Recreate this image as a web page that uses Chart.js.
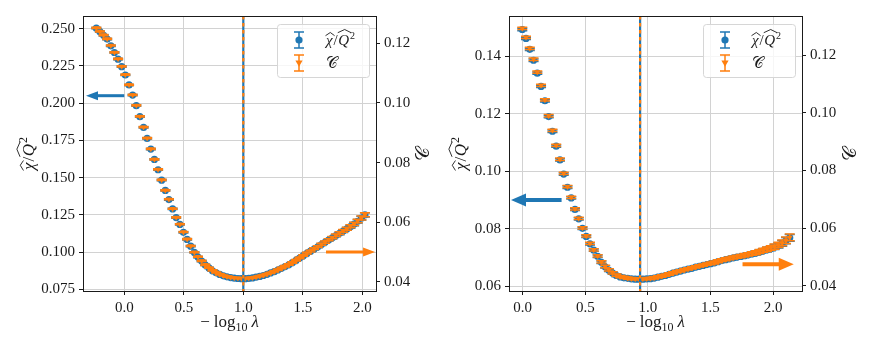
<!DOCTYPE html>
<html><head><meta charset="utf-8">
<script src="https://cdn.jsdelivr.net/npm/chart.js@4/dist/chart.umd.min.js"></script>
<style>
html,body{margin:0;padding:0;background:#fff;}
#wrap{position:relative;width:872px;height:349px;overflow:hidden;}
canvas{position:absolute;top:0;}
</style></head><body>
<div id="wrap"><canvas id="cL" width="436" height="349" style="left:0"></canvas><canvas id="cR" width="436" height="349" style="left:436px"></canvas></div>
<script>
// ---------- Left panel data ----------
const xL = [-0.235,-0.205,-0.174,-0.144,-0.113,-0.083,-0.052,-0.022,0.009,0.040,
 0.070,0.101,0.131,0.162,0.192,0.223,0.253,0.284,0.314,0.345,
 0.375,0.406,0.436,0.467,0.497,0.528,0.558,0.589,0.619,0.650,
 0.680,0.711,0.741,0.772,0.802,0.833,0.863,0.894,0.924,0.955,
 0.985,1.016,1.046,1.077,1.107,1.138,1.168,1.199,1.229,1.260,
 1.290,1.321,1.351,1.382,1.412,1.443,1.473,1.504,1.534,1.565,
 1.595,1.626,1.656,1.687,1.717,1.748,1.778,1.809,1.839,1.870,
 1.900,1.931,1.961,1.992,2.022];
const chiL = [0.2503,0.2480,0.2455,0.2430,0.2385,0.2340,0.2295,0.2245,0.2189,0.2122,
 0.2054,0.1983,0.1909,0.1837,0.1763,0.1692,0.1622,0.1553,0.1483,0.1414,
 0.1353,0.1290,0.1232,0.1186,0.1133,0.1085,0.1040,0.0998,0.0967,0.0940,
 0.0914,0.0894,0.0875,0.0861,0.0850,0.0841,0.0834,0.0829,0.0825,0.0823,
 0.0822,0.0822,0.0824,0.0827,0.0832,0.0837,0.0843,0.0851,0.0860,0.0869,
 0.0880,0.0891,0.0903,0.0915,0.0929,0.0944,0.0960,0.0976,0.0991,0.1006,
 0.1021,0.1036,0.1051,0.1066,0.1081,0.1096,0.1111,0.1126,0.1141,0.1156,
 0.1171,0.1188,0.1207,0.1228,0.1250];
const chiErrL = [0.0004,0.0004,0.0004,0.0004,0.0004,0.0004,0.0004,0.0004,0.0004,0.0004,
 0.0004,0.0004,0.0004,0.0004,0.0004,0.0004,0.0004,0.0004,0.0004,0.0004,
 0.0004,0.0004,0.0004,0.0004,0.0004,0.0004,0.0004,0.0004,0.0004,0.0004,
 0.0004,0.0004,0.0004,0.0004,0.0004,0.0004,0.0004,0.0004,0.0004,0.0004,
 0.0004,0.0004,0.0004,0.0004,0.0004,0.0004,0.0004,0.0004,0.0004,0.0004,
 0.0005,0.0005,0.0005,0.0005,0.0005,0.0005,0.0005,0.0005,0.0006,0.0006,
 0.0006,0.0006,0.0007,0.0007,0.0007,0.0008,0.0008,0.0009,0.0009,0.0010,
 0.0010,0.0011,0.0012,0.0013,0.0014];
const cL = [0.1252,0.1240,0.1228,0.1215,0.1193,0.1170,0.1148,0.1123,0.1095,0.1061,
 0.1027,0.0992,0.0955,0.0919,0.0882,0.0846,0.0811,0.0777,0.0742,0.0707,
 0.0677,0.0645,0.0616,0.0593,0.0567,0.0543,0.0520,0.0499,0.0484,0.0470,
 0.0457,0.0447,0.0438,0.0431,0.0425,0.0421,0.0417,0.0415,0.0413,0.0412,
 0.0411,0.0411,0.0412,0.0414,0.0416,0.0419,0.0422,0.0426,0.0430,0.0435,
 0.0440,0.0446,0.0452,0.0458,0.0465,0.0472,0.0480,0.0488,0.0496,0.0503,
 0.0511,0.0518,0.0526,0.0533,0.0541,0.0548,0.0556,0.0563,0.0571,0.0578,
 0.0586,0.0594,0.0604,0.0614,0.0625];
const cErrL = [0.0002,0.0002,0.0002,0.0002,0.0002,0.0002,0.0002,0.0002,0.0002,0.0002,
 0.0002,0.0002,0.0002,0.0002,0.0002,0.0002,0.0002,0.0002,0.0002,0.0002,
 0.0002,0.0002,0.0002,0.0002,0.0002,0.0002,0.0002,0.0002,0.0002,0.0002,
 0.0002,0.0002,0.0002,0.0002,0.0002,0.0002,0.0002,0.0002,0.0002,0.0002,
 0.0002,0.0002,0.0002,0.0002,0.0002,0.0002,0.0002,0.0002,0.0002,0.0002,
 0.00025,0.00025,0.00025,0.00025,0.00025,0.00025,0.00025,0.00025,0.0003,0.0003,
 0.0003,0.0003,0.00035,0.00035,0.00035,0.0004,0.0004,0.00045,0.00045,0.0005,
 0.0005,0.00055,0.0006,0.00065,0.0007];
const xTicksL = [0.0, 0.5, 1.0, 1.5, 2.0];
const yTicksL = [0.075, 0.100, 0.125, 0.150, 0.175, 0.200, 0.225, 0.250];
const y1TicksL = [0.04, 0.06, 0.08, 0.10, 0.12];
const xRangeL = [-0.347, 2.115];
const yRangeL = [0.0739, 0.2585];
const y1RangeL = [0.0369, 0.1292];
const vlineL = 1.0;
const arrowBlueL = [0.00, -0.322, 0.205];     // x from, x to (tip), y on left axis
const arrowOrangeL = [1.695, 2.107, 0.050];   // x from, x to (tip), y on right axis

// ---------- Right panel data ----------
const xR = [-0.003,0.027,0.057,0.087,0.117,0.147,0.178,0.208,0.238,0.268,
 0.298,0.328,0.358,0.388,0.418,0.448,0.478,0.508,0.538,0.568,
 0.599,0.629,0.659,0.689,0.719,0.749,0.779,0.809,0.839,0.869,
 0.899,0.929,0.960,0.990,1.020,1.050,1.080,1.110,1.140,1.170,
 1.200,1.230,1.260,1.290,1.321,1.351,1.381,1.411,1.441,1.471,
 1.501,1.531,1.561,1.591,1.621,1.651,1.682,1.712,1.742,1.772,
 1.802,1.832,1.862,1.892,1.922,1.952,1.982,2.012,2.043,2.073,
 2.103,2.133];
const chiR = [0.1493,0.1462,0.1424,0.1386,0.1341,0.1295,0.1245,0.1190,0.1139,0.1087,
 0.1039,0.0990,0.0944,0.0907,0.0867,0.0834,0.0801,0.0773,0.0747,0.0725,
 0.0704,0.0683,0.0667,0.0655,0.0645,0.0637,0.0632,0.0629,0.0627,0.0625,
 0.0624,0.0624,0.0624,0.0625,0.0626,0.0628,0.0631,0.0634,0.0637,0.0641,
 0.0645,0.0649,0.0652,0.0656,0.0659,0.0662,0.0666,0.0669,0.0672,0.0675,
 0.0678,0.0681,0.0685,0.0689,0.0692,0.0695,0.0698,0.0701,0.0703,0.0706,
 0.0709,0.0712,0.0715,0.0719,0.0723,0.0727,0.0731,0.0736,0.0742,0.0749,
 0.0758,0.0768];
const chiErrR = [0.0004,0.0004,0.0004,0.0004,0.0004,0.0004,0.0004,0.0004,0.0004,0.0004,
 0.0004,0.0004,0.0004,0.0004,0.0004,0.0004,0.0004,0.0004,0.0004,0.0004,
 0.0004,0.0004,0.0004,0.0004,0.0004,0.0004,0.0004,0.0004,0.0004,0.0004,
 0.0004,0.0004,0.0004,0.0004,0.0004,0.0004,0.0004,0.0004,0.0004,0.0004,
 0.0004,0.0004,0.0004,0.0004,0.0004,0.0004,0.0004,0.0004,0.0004,0.0004,
 0.0005,0.0005,0.0005,0.0005,0.0005,0.0005,0.0005,0.0005,0.0006,0.0006,
 0.0006,0.0006,0.0007,0.0007,0.0007,0.0008,0.0008,0.0009,0.0009,0.0010,
 0.0011,0.0012];
const cR = [0.1293,0.1262,0.1224,0.1186,0.1141,0.1095,0.1045,0.0990,0.0939,0.0887,
 0.0839,0.0790,0.0744,0.0707,0.0667,0.0634,0.0601,0.0573,0.0547,0.0525,
 0.0504,0.0483,0.0467,0.0455,0.0445,0.0437,0.0432,0.0429,0.0427,0.0425,
 0.0424,0.0424,0.0424,0.0425,0.0426,0.0428,0.0431,0.0434,0.0437,0.0441,
 0.0445,0.0449,0.0452,0.0456,0.0459,0.0462,0.0466,0.0469,0.0472,0.0475,
 0.0478,0.0481,0.0485,0.0489,0.0492,0.0495,0.0498,0.0501,0.0503,0.0506,
 0.0509,0.0512,0.0515,0.0519,0.0523,0.0527,0.0531,0.0536,0.0542,0.0549,
 0.0558,0.0568];
const cErrR = [0.0004,0.0004,0.0004,0.0004,0.0004,0.0004,0.0004,0.0004,0.0004,0.0004,
 0.0004,0.0004,0.0004,0.0004,0.0004,0.0004,0.0004,0.0004,0.0004,0.0004,
 0.0004,0.0004,0.0004,0.0004,0.0004,0.0004,0.0004,0.0004,0.0004,0.0004,
 0.0004,0.0004,0.0004,0.0004,0.0004,0.0004,0.0004,0.0004,0.0004,0.0004,
 0.0004,0.0004,0.0004,0.0004,0.0004,0.0004,0.0004,0.0004,0.0004,0.0004,
 0.0005,0.0005,0.0005,0.0005,0.0005,0.0005,0.0005,0.0005,0.0006,0.0006,
 0.0006,0.0006,0.0007,0.0007,0.0007,0.0008,0.0008,0.0009,0.0009,0.0010,
 0.0011,0.0012];
const xTicksR = [0.0, 0.5, 1.0, 1.5, 2.0];
const yTicksR = [0.06, 0.08, 0.10, 0.12, 0.14];
const y1TicksR = [0.04, 0.06, 0.08, 0.10, 0.12];
const xRangeR = [-0.109, 2.231];
const yRangeR = [0.0583, 0.1540];
const y1RangeR = [0.0382, 0.1336];
const vlineR = 0.938;
const arrowBlueR = [0.311, -0.093, 0.090];
const arrowOrangeR = [1.756, 2.165, 0.0475];

// ---------- styling ----------
const BLUE = '#1f77b4', ORANGE = '#ff7f0e', INK = '#1a1a1a';
const SERIF = '"Liberation Serif", "DejaVu Serif", serif';

function richWidth(ctx, segs){
  let w = 0;
  for (const s of segs){ ctx.font = s.f; w += ctx.measureText(s.t).width + (s.sp||0); }
  return w;
}
function drawRich(ctx, segs, x, y, align){
  let cx = align === 'center' ? x - richWidth(ctx, segs)/2 : x;
  ctx.textBaseline = 'alphabetic'; ctx.textAlign = 'left';
  for (const s of segs){
    ctx.font = s.f;
    const sw = ctx.measureText(s.t).width;
    ctx.fillText(s.t, cx, y + (s.dy||0));
    if (s.hat !== undefined){
      ctx.save(); ctx.lineWidth = 0.9; ctx.strokeStyle = ctx.fillStyle;
      ctx.beginPath();
      ctx.moveTo(cx - 0.5, y + s.hat);
      ctx.lineTo(cx + sw/2 + 1, y + s.hat - 3.2);
      ctx.lineTo(cx + sw + 2, y + s.hat);
      ctx.stroke(); ctx.restore();
    }
    cx += sw + (s.sp||0);
  }
}
function chiLabel(sz){
  return [
    {t:'χ', f:`italic ${sz}px ${SERIF}`, hat:-0.62*sz, sp:1},
    {t:'/', f:`${sz}px ${SERIF}`, sp:0.5},
    {t:'Q', f:`italic ${sz}px ${SERIF}`, hat:-0.82*sz, sp:1},
    {t:'2', f:`${Math.round(sz*0.68)}px ${SERIF}`, dy:-0.42*sz}
  ];
}
function cLabel(sz){ return [{t:'𝒞', f:`${sz}px ${SERIF}`}]; }
function xLabel(sz){
  return [
    {t:'−', f:`${sz}px ${SERIF}`, sp:4},
    {t:'log', f:`${sz}px ${SERIF}`},
    {t:'10', f:`${Math.round(sz*0.7)}px ${SERIF}`, dy:0.25*sz, sp:4},
    {t:'λ', f:`italic ${sz}px ${SERIF}`}
  ];
}

const errBarPlugin = {
  id: 'errbars',
  beforeDatasetDraw(chart, args){
    const ds = chart.data.datasets[args.index];
    const ys = chart.scales[ds.yAxisID], xs = chart.scales.x;
    const ctx = chart.ctx, a = chart.chartArea;
    ctx.save();
    ctx.beginPath(); ctx.rect(a.left, a.top, a.right - a.left, a.bottom - a.top); ctx.clip();
    ctx.strokeStyle = ds.borderColor; ctx.lineWidth = 1.5;
    ctx.beginPath();
    for (const p of ds.data){
      const px = xs.getPixelForValue(p.x);
      const y1 = ys.getPixelForValue(p.y - p.e), y2 = ys.getPixelForValue(p.y + p.e);
      ctx.moveTo(px, y1); ctx.lineTo(px, y2);
      ctx.moveTo(px - 5, y1); ctx.lineTo(px + 5, y1);
      ctx.moveTo(px - 5, y2); ctx.lineTo(px + 5, y2);
    }
    ctx.stroke();
    ctx.restore();
  }
};

function arrow(ctx, x0, x1, y, color, st){
  const dir = Math.sign(x1 - x0);
  ctx.save();
  ctx.fillStyle = color; ctx.strokeStyle = color;
  ctx.lineWidth = st.w;
  ctx.beginPath(); ctx.moveTo(x0, y); ctx.lineTo(x1 - dir*st.hl*0.8, y); ctx.stroke();
  ctx.beginPath();
  ctx.moveTo(x1, y);
  ctx.lineTo(x1 - dir*st.hl, y - st.hw);
  ctx.lineTo(x1 - dir*st.hl, y + st.hw);
  ctx.closePath(); ctx.fill();
  ctx.restore();
}

function makePanel(id, P){
  const overlay = {
    id: 'overlay',
    afterDatasetsDraw(chart){
      const ctx = chart.ctx, a = chart.chartArea, S = chart.scales;
      // vertical reference line
      const vx = S.x.getPixelForValue(P.vline);
      ctx.save();
      ctx.lineWidth = 2.2; ctx.strokeStyle = BLUE;
      ctx.beginPath(); ctx.moveTo(vx, a.top); ctx.lineTo(vx, a.bottom); ctx.stroke();
      ctx.strokeStyle = ORANGE; ctx.setLineDash([3.5, 3.5]);
      ctx.beginPath(); ctx.moveTo(vx, a.top); ctx.lineTo(vx, a.bottom); ctx.stroke();
      ctx.restore();
      // arrows
      arrow(ctx, S.x.getPixelForValue(P.arrowB[0]), S.x.getPixelForValue(P.arrowB[1]),
            S.y.getPixelForValue(P.arrowB[2]), BLUE, P.arrowStyle);
      arrow(ctx, S.x.getPixelForValue(P.arrowO[0]), S.x.getPixelForValue(P.arrowO[1]),
            S.y1.getPixelForValue(P.arrowO[2]), ORANGE, P.arrowStyle);
      // frame
      ctx.save(); ctx.strokeStyle = INK; ctx.lineWidth = 1;
      ctx.strokeRect(Math.round(a.left) + 0.5, Math.round(a.top) + 0.5,
                     Math.round(a.right - a.left), Math.round(a.bottom - a.top));
      ctx.restore();
      // legend
      const bw = 92, bh = 53;
      const bx = a.right - 7 - bw, by = a.top + 8;
      ctx.save();
      ctx.fillStyle = 'rgba(255,255,255,0.8)'; ctx.strokeStyle = '#d6d6d6'; ctx.lineWidth = 1;
      ctx.beginPath();
      if (ctx.roundRect) ctx.roundRect(bx + 0.5, by + 0.5, bw, bh, 3); else ctx.rect(bx + 0.5, by + 0.5, bw, bh);
      ctx.fill(); ctx.stroke();
      const sx = bx + 22;
      const rows = [{y: by + 16, c: BLUE, m: 'circle', lab: chiLabel(15)},
                    {y: by + 39, c: ORANGE, m: 'tri', lab: cLabel(16)}];
      for (const r of rows){
        ctx.strokeStyle = r.c; ctx.fillStyle = r.c; ctx.lineWidth = 1.5;
        ctx.beginPath();
        ctx.moveTo(sx, r.y - 8); ctx.lineTo(sx, r.y + 8);
        ctx.moveTo(sx - 5, r.y - 8); ctx.lineTo(sx + 5, r.y - 8);
        ctx.moveTo(sx - 5, r.y + 8); ctx.lineTo(sx + 5, r.y + 8);
        ctx.stroke();
        ctx.beginPath();
        if (r.m === 'circle'){ ctx.arc(sx, r.y, 3.6, 0, Math.PI*2); }
        else { ctx.moveTo(sx - 3.6, r.y - 2.5); ctx.lineTo(sx + 3.6, r.y - 2.5); ctx.lineTo(sx, r.y + 3.8); ctx.closePath(); }
        ctx.fill();
        ctx.fillStyle = INK;
        drawRich(ctx, r.lab, bx + 49, r.y + 5, 'left');
      }
      ctx.restore();
      // axis titles
      ctx.save(); ctx.fillStyle = INK;
      drawRich(ctx, xLabel(17), (a.left + a.right)/2, a.bottom + 36, 'center');
      ctx.save(); ctx.translate(a.left + P.yTitleDx, (a.top + a.bottom)/2); ctx.rotate(-Math.PI/2);
      drawRich(ctx, chiLabel(17), 0, 0, 'center'); ctx.restore();
      ctx.save(); ctx.translate(a.right + P.y1TitleDx, (a.top + a.bottom)/2); ctx.rotate(-Math.PI/2);
      drawRich(ctx, cLabel(19), 0, 0, 'center'); ctx.restore();
      ctx.restore();
    }
  };
  const tickFont = {family: SERIF, size: 15};
  const gridCol = '#d2d2d2';
  const mkTicks = arr => (s => { s.ticks = arr.map(v => ({value: v})); });
  return new Chart(document.getElementById(id), {
    type: 'scatter',
    data: {
      datasets: [
        {label: 'chi', order: 2, data: P.xs.map((x, i) => ({x, y: P.chi[i], e: P.chiErr[i]})), yAxisID: 'y',
         pointStyle: 'circle', pointRadius: 3.6, pointHoverRadius: 3.6, backgroundColor: BLUE, borderColor: BLUE, borderWidth: 0},
        {label: 'C', order: 1, data: P.xs.map((x, i) => ({x, y: P.c[i], e: P.cErr[i]})), yAxisID: 'y1',
         pointStyle: 'triangle', pointRotation: 180, pointRadius: 3.4, pointHoverRadius: 3.4, backgroundColor: ORANGE, borderColor: ORANGE, borderWidth: 0}
      ]
    },
    options: {
      responsive: false, devicePixelRatio: 1, animation: false,
      layout: {padding: {top: 16, left: 0, right: 0, bottom: 0}},
      plugins: {legend: {display: false}, tooltip: {enabled: false}},
      scales: {
        x: {type: 'linear', position: 'bottom', min: P.xRange[0], max: P.xRange[1],
            afterBuildTicks: mkTicks(P.xTicks), afterFit: s => { s.height = 58; },
            ticks: {font: tickFont, color: INK, padding: 4, maxRotation: 0, autoSkip: false, includeBounds: false,
                    callback: v => Number(v).toFixed(1)},
            grid: {color: gridCol, lineWidth: 1, tickColor: INK, tickLength: 4},
            border: {color: INK, width: 1}},
        y: {type: 'linear', position: 'left', min: P.yRange[0], max: P.yRange[1],
            afterBuildTicks: mkTicks(P.yTicks), afterFit: s => { s.width = P.yW; },
            ticks: {font: tickFont, color: INK, padding: 4, autoSkip: false, includeBounds: false,
                    callback: v => Number(v).toFixed(P.yDec)},
            grid: {color: gridCol, lineWidth: 1, tickColor: INK, tickLength: 4},
            border: {color: INK, width: 1}},
        y1: {type: 'linear', position: 'right', min: P.y1Range[0], max: P.y1Range[1],
            afterBuildTicks: mkTicks(P.y1Ticks), afterFit: s => { s.width = P.y1W; },
            ticks: {font: tickFont, color: INK, padding: 4, autoSkip: false, includeBounds: false,
                    callback: v => Number(v).toFixed(2)},
            grid: {drawOnChartArea: false, tickColor: INK, tickLength: 4},
            border: {color: INK, width: 1}}
      }
    },
    plugins: [errBarPlugin, overlay]
  });
}

makePanel('cL', {
  xs: xL, chi: chiL, chiErr: chiErrL, c: cL, cErr: cErrL,
  xRange: xRangeL, yRange: yRangeL, y1Range: y1RangeL,
  xTicks: xTicksL, yTicks: yTicksL, y1Ticks: y1TicksL, yDec: 3,
  vline: vlineL, arrowB: arrowBlueL, arrowO: arrowOrangeL,
  arrowStyle: {w: 3, hl: 12, hw: 4.5},
  yW: 83, y1W: 60, yTitleDx: -49, y1TitleDx: 53
});
makePanel('cR', {
  xs: xR, chi: chiR, chiErr: chiErrR, c: cR, cErr: cErrR,
  xRange: xRangeR, yRange: yRangeR, y1Range: y1RangeR,
  xTicks: xTicksR, yTicks: yTicksR, y1Ticks: y1TicksR, yDec: 2,
  vline: vlineR, arrowB: arrowBlueR, arrowO: arrowOrangeR,
  arrowStyle: {w: 4, hl: 15, hw: 6.5},
  yW: 73, y1W: 70, yTitleDx: -43, y1TitleDx: 54
});
</script>
</body></html>
